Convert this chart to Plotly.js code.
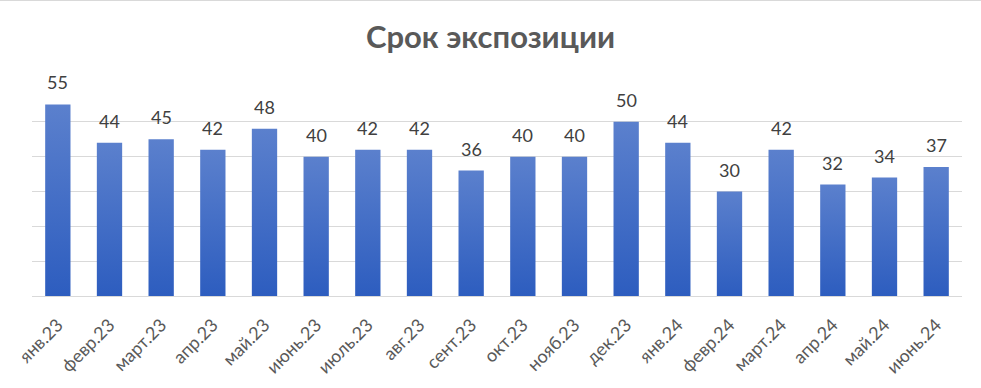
<!DOCTYPE html>
<html>
<head>
<meta charset="utf-8">
<script src="https://cdn.plot.ly/plotly-3.0.1.min.js"></script>
<style>
html,body{margin:0;padding:0;background:#fff;}
#chart{width:981px;height:388px;box-sizing:border-box;border-top:1px solid #d9d9d9;}
</style>
</head>
<body>
<div id="chart"></div>
<script>
const categories = ["янв.23","февр.23","март.23","апр.23","май.23","июнь.23","июль.23","авг.23","сент.23","окт.23","нояб.23","дек.23","янв.24","февр.24","март.24","апр.24","май.24","июнь.24"];
const values = [55,44,45,42,48,40,42,42,36,40,40,50,44,30,42,32,34,37];
const chartTitle = "Срок экспозиции";

const FONT = 'Lato, "Noto Sans", sans-serif';

const trace = {
  type: 'bar',
  x: categories,
  y: values,
  marker: {color: '#4370c8', line: {width: 0}},
  hoverinfo: 'x+y'
};

const labelAnnotations = categories.map((c, i) => ({
  x: c, y: values[i], xref: 'x', yref: 'y',
  text: String(values[i]),
  showarrow: false,
  xanchor: 'center', yanchor: 'bottom',
  yshift: 9,
  font: {family: FONT, size: 18, color: '#404040'}
}));

const layout = {
  width: 981, height: 387,
  margin: {l: 32, r: 19, t: 86, b: 92, pad: 0},
  paper_bgcolor: '#ffffff',
  plot_bgcolor: '#ffffff',
  showlegend: false,
  bargap: 0.51,
  title: {
    text: '<b>' + chartTitle + '</b>',
    font: {family: FONT, size: 31, color: '#595959'},
    x: 0.5, xanchor: 'center', y: 0.907, yanchor: 'middle', yref: 'container'
  },
  xaxis: {
    type: 'category',
    tickangle: -45,
    ticklabelstandoff: 14,
    tickfont: {family: FONT, size: 18, color: '#595959'},
    showgrid: false, showline: false, ticks: '', zeroline: false
  },
  yaxis: {
    range: [0, 60],
    dtick: 10,
    showticklabels: false,
    showgrid: true, gridcolor: '#d9d9d9', gridwidth: 1,
    zeroline: true, zerolinecolor: '#d9d9d9', zerolinewidth: 1,
    showline: false, ticks: ''
  },
  annotations: labelAnnotations
};

function applyGradient(gd){
  const svg = gd.querySelector('svg.main-svg');
  if(!svg) return;
  let defs = svg.querySelector('defs');
  if(!defs){ defs = document.createElementNS('http://www.w3.org/2000/svg','defs'); svg.insertBefore(defs, svg.firstChild); }
  if(!svg.querySelector('#barGrad')){
    const g = document.createElementNS('http://www.w3.org/2000/svg','linearGradient');
    g.setAttribute('id','barGrad');
    g.setAttribute('x1','0'); g.setAttribute('y1','0'); g.setAttribute('x2','0'); g.setAttribute('y2','1');
    const s1 = document.createElementNS('http://www.w3.org/2000/svg','stop');
    s1.setAttribute('offset','0'); s1.setAttribute('stop-color','#5b80cd');
    const s2 = document.createElementNS('http://www.w3.org/2000/svg','stop');
    s2.setAttribute('offset','1'); s2.setAttribute('stop-color','#2d5dbf');
    g.appendChild(s1); g.appendChild(s2);
    defs.appendChild(g);
  }
  gd.querySelectorAll('.bars .point path').forEach(p => { p.style.fill = 'url(#barGrad)'; });
}

const gd = document.getElementById('chart');
Plotly.newPlot(gd, [trace], layout, {staticPlot: true, displayModeBar: false}).then(() => {
  applyGradient(gd);
  gd.on('plotly_afterplot', () => applyGradient(gd));
});
</script>
</body>
</html>
